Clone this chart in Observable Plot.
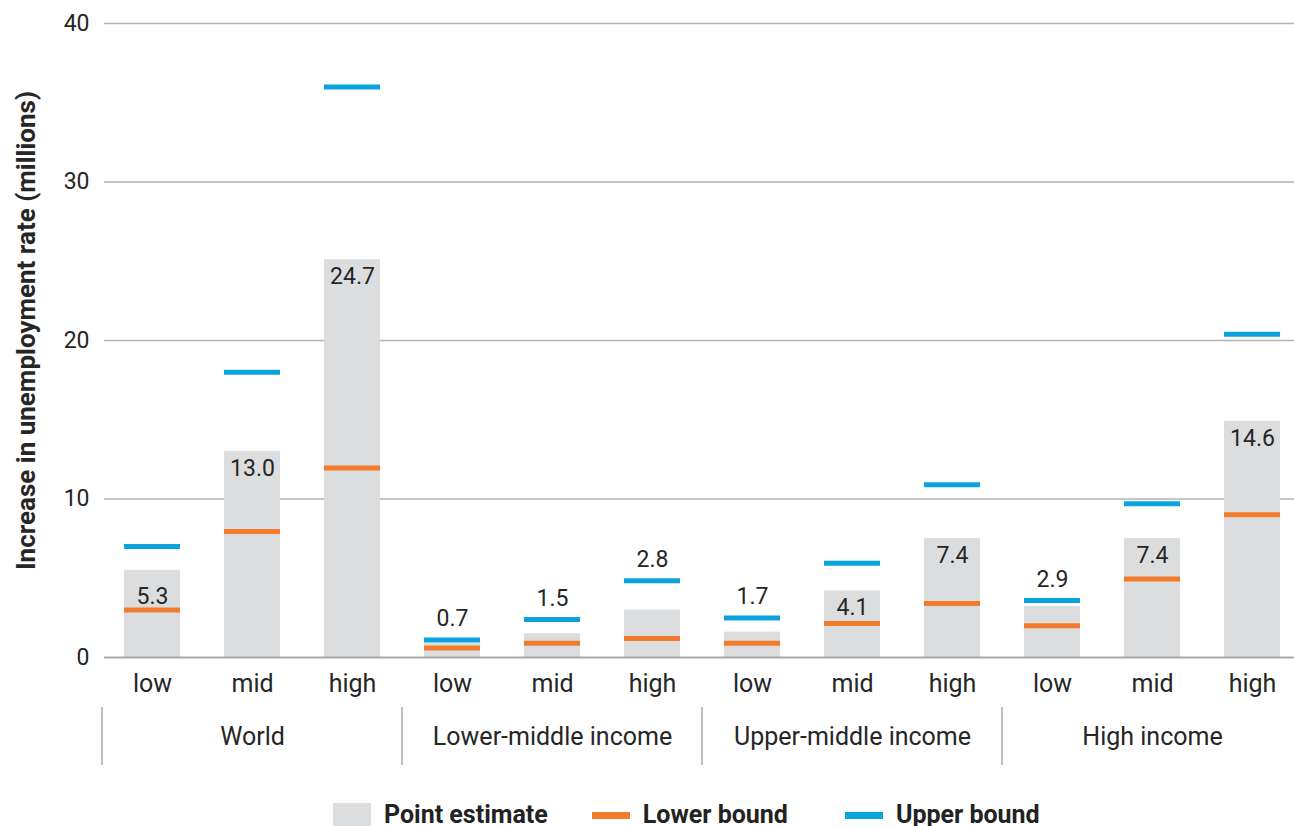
<!DOCTYPE html>
<html><head><meta charset="utf-8">
<script src="https://cdn.jsdelivr.net/npm/d3@7"></script>
<script src="https://cdn.jsdelivr.net/npm/@observablehq/plot@0.6"></script>
<style>
html,body{margin:0;padding:0;background:#fff;}
body{width:1294px;height:826px;overflow:hidden;font-family:Roboto, sans-serif;}
#legend{display:flex;align-items:flex-start;padding-left:333px;padding-top:7px;height:24px;overflow:visible;color:#222;font-weight:bold;font-size:25px;}
.item{display:flex;align-items:flex-start;}
.sw{flex:none;}
.txt{line-height:25px;margin-left:13px;}
</style></head><body>
<div id="chart"></div>
<div id="legend"></div>
<script>
const groups = ["World", "Lower-middle income", "Upper-middle income", "High income"];
const levels = ["low", "mid", "high"];
const pointEstimate = [5.5, 13.0, 25.1, 0.9, 1.5, 3.0, 1.6, 4.2, 7.5, 3.2, 7.5, 14.9];
const lowerBound = [3.0, 7.95, 11.95, 0.6, 0.9, 1.2, 0.9, 2.15, 3.4, 2.0, 4.95, 9.0];
const upperBound = [7.0, 18.0, 36.0, 1.1, 2.4, 4.85, 2.5, 5.95, 10.9, 3.6, 9.7, 20.4];
const valueLabels = ["5.3", "13.0", "24.7", "0.7", "1.5", "2.8", "1.7", "4.1", "7.4", "2.9", "7.4", "14.6"];
const labelAnchor = ["lower", "top", "top", "upper", "upper", "upper", "upper", "top", "top", "upper", "top", "top"];
const yTicks = [0, 10, 20, 30, 40];
const yTitle = "Increase in unemployment rate (millions)";
const legendItems = ["Point estimate", "Lower bound", "Upper bound"];

const keys = [];
groups.forEach(g => levels.forEach(l => keys.push(g + "|" + l)));
const data = keys.map((k, i) => ({
  key: k, point: pointEstimate[i], lower: lowerBound[i], upper: upperBound[i],
  label: valueLabels[i], anchor: labelAnchor[i]
}));

const grey = "#dcdddf", orange = "#f37c2c", blue = "#0aa3dd", ink = "#262626";

const plot = Plot.plot({
  width: 1294, height: 795,
  marginTop: 23, marginBottom: 138, marginLeft: 104, marginRight: 0,
  style: {fontFamily: "Roboto", fontSize: "23px", color: ink, background: "#fff", overflow: "visible"},
  x: {type: "band", domain: keys, range: [102, 1302], paddingInner: 0.44, paddingOuter: 0.22, axis: null},
  y: {domain: [0, 40], axis: null},
  marks: [
    Plot.gridY(yTicks.filter(t => t > 0), {stroke: "#b3b3b3", strokeOpacity: 1, strokeWidth: 1.5}),
    Plot.axisY(yTicks, {tickSize: 0, tickPadding: 15, fontSize: 23, label: null, fill: ink}),
    Plot.barY(data, {x: "key", y: "point", fill: grey}),
    Plot.ruleY([0], {stroke: "#a9a9a9", strokeWidth: 2}),
    Plot.tickY(data, {x: "key", y: "lower", stroke: orange, strokeWidth: 5}),
    Plot.tickY(data, {x: "key", y: "upper", stroke: blue, strokeWidth: 5}),
    Plot.text(data.filter(d => d.anchor === "top"), {x: "key", y: "point", text: "label", dy: 17, fontSize: 23, fill: ink}),
    Plot.text(data.filter(d => d.anchor === "upper"), {x: "key", y: "upper", text: "label", dy: -21, fontSize: 23, fill: ink}),
    Plot.text(data.filter(d => d.anchor === "lower"), {x: "key", y: "lower", text: "label", dy: -13, fontSize: 23, fill: ink}),
    Plot.axisX({tickSize: 0, tickPadding: 17, fontSize: 25, tickFormat: d => d.split("|")[1], label: null, fill: ink}),
    Plot.text(groups, {x: g => g + "|mid", frameAnchor: "bottom", dy: 87, lineAnchor: "bottom", text: d => d, fontSize: 25, fill: ink}),
    Plot.text([yTitle], {frameAnchor: "left", textAnchor: "middle", lineAnchor: "middle", rotate: -90, dx: -78, dy: -10, text: d => d, fontWeight: "bold", fontSize: 26, fill: ink})
  ]
});
document.getElementById("chart").appendChild(plot);

// group separators below the axis, placed through the x scale
const sx = plot.scale("x");
const gap = (sx.step - sx.bandwidth) / 2;
const bottom = 795 - 138;
const svg = d3.select(plot);
groups.forEach(g => {
  const xp = sx.apply(g + "|" + levels[0]) - gap;
  svg.append("line")
    .attr("x1", xp).attr("x2", xp)
    .attr("y1", bottom + 50).attr("y2", bottom + 108)
    .attr("stroke", "#a9a9a9").attr("stroke-width", 1.5);
});

// legend
const legend = d3.select("#legend");
const swatches = [
  {w: 38, h: 38, mt: 1, c: grey},
  {w: 38, h: 7, mt: 10, c: orange},
  {w: 38, h: 7, mt: 10, c: blue}
];
const gaps = [44, 57, 0];
legendItems.forEach((t, i) => {
  const it = legend.append("div").attr("class", "item").style("margin-right", gaps[i] + "px");
  it.append("div").attr("class", "sw")
    .style("width", swatches[i].w + "px").style("height", swatches[i].h + "px")
    .style("margin-top", swatches[i].mt + "px").style("background", swatches[i].c);
  it.append("div").attr("class", "txt").text(t);
});
</script>
</body></html>
